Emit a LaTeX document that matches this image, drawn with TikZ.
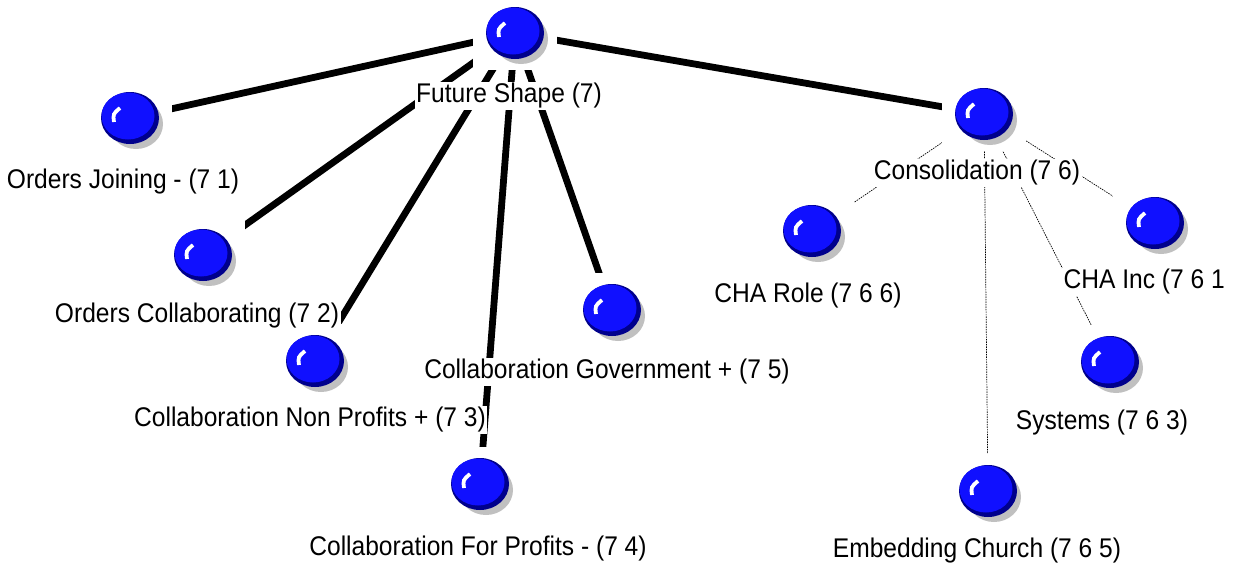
\documentclass[tikz,border=0pt]{standalone}
\usepackage{fontspec}
\newfontfamily\labfont{Liberation Sans}[FakeStretch=0.91]
\usetikzlibrary{backgrounds}
\definecolor{ballblue}{RGB}{16,16,255}
\definecolor{ballrim}{RGB}{0,0,140}
\definecolor{ballshadow}{RGB}{192,192,192}
\tikzset{
  ball/.style={rectangle, fill=white, draw=none, inner sep=0pt,
    minimum width=84pt, minimum height=74pt,
    path picture={
      \begin{scope}[shift={(path picture bounding box.center)}]
        \fill[ballshadow] (6,6) ellipse (27 and 25);
        \fill[ballrim] (0,0) ellipse (29 and 26);
        \fill[ballblue] (-2,-2) ellipse (26.5 and 23.5);
        \draw[white, line width=3.8pt] (-16,4) .. controls (-17,-4) .. (-10,-10);
      \end{scope}
    }},
  lab/.style={rectangle, fill=white, inner sep=1.5pt, font=\labfont\fontsize{27}{30}\selectfont},
  thick edge/.style={line width=6.8pt, black},
  thin edge/.style={line width=0.7pt, black, dash pattern=on 1.5pt off 1pt}
}
\begin{document}
\begin{tikzpicture}[x=1pt, y=-1pt]
\useasboundingbox (0,0) rectangle (1245,563);
% balls
\node[ball] (root) at (515,33) {};
\node[ball] (oj) at (130,118) {};
\node[ball] (oc) at (203,255) {};
\node[ball] (np) at (315,361) {};
\node[ball] (gov) at (612,310) {};
\node[ball] (fp) at (480,484) {};
\node[ball] (con) at (984,114) {};
\node[ball] (role) at (812,231) {};
\node[ball] (inc) at (1155,223) {};
\node[ball] (sys) at (1110,362) {};
\node[ball] (emb) at (988,491) {};
% labels
\node[lab] (lroot) at (509,96) {Future Shape (7)};
\node[lab] (loj) at (123,182) {Orders Joining - (7 1)};
\node[lab] (loc) at (197,316) {Orders Collaborating (7 2)};
\node[lab] (lnp) at (310,420) {Collaboration Non Profits + (7 3)};
\node[lab] (lgov) at (607,372) {Collaboration Government + (7 5)};
\node[lab] (lfp) at (478,549) {Collaboration For Profits - (7 4)};
\node[lab] (lcon) at (977,173) {Consolidation (7 6)};
\node[lab] (lrole) at (808,296) {CHA Role (7 6 6)};
\node[lab, anchor=west] (linc) at (1062,282) {CHA Inc (7 6 1};
\node[lab] (lsys) at (1102,423) {Systems (7 6 3)};
\node[lab] (lemb) at (977,551) {Embedding Church (7 6 5)};
% edges
\begin{pgfonlayer}{background}
\draw[thick edge] (root.center) -- (oj.center);
\draw[thick edge] (root.center) -- (oc.center);
\draw[thick edge] (root.center) -- (np.center);
\draw[thick edge] (root.center) -- (fp.center);
\draw[thick edge] (root.center) -- (gov.center);
\draw[thick edge] (root.center) -- (con.center);
\draw[thin edge] (con.center) -- (role.center);
\draw[thin edge] (con.center) -- (emb.center);
\draw[thin edge] (con.center) -- (sys.center);
\draw[thin edge] (con.center) -- (inc.center);
\end{pgfonlayer}
\end{tikzpicture}
\end{document}
